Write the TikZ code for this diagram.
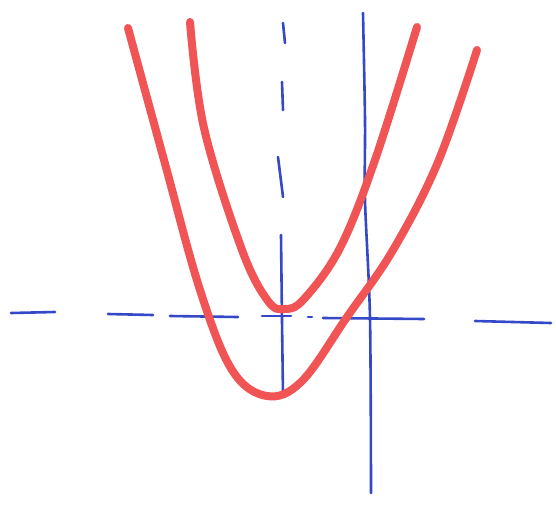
\documentclass[tikz,border=0pt]{standalone}
\usepackage{tikz}
\definecolor{penred}{RGB}{240,84,84}
\definecolor{penblue}{RGB}{52,72,200}

\begin{document}
\begin{tikzpicture}[
    x=1pt, y=-1pt,
    redpen/.style={draw=penred, line width=8pt, line cap=round, line join=round},
    bluepen/.style={draw=penblue, line width=2.6pt, line cap=round}
]
\fill[white] (0,0) rectangle (556,506);
\useasboundingbox (0,0) rectangle (556,506);

% horizontal axis, dashed by hand
\foreach \xa/\ya/\xb/\yb in {11/313/55/312, 108/314/153/315, 170/316/238/317, 262/316/291/316, 308/317/312/317, 323/318/424/319, 475/321/551/323}
  \draw[bluepen] (\xa,\ya) -- (\xb,\yb);

% vertical axis of symmetry
\foreach \xa/\ya/\xb/\yb in {283/23/285/43, 282/82/283/110, 278/157/283/197}
  \draw[bluepen] (\xa,\ya) -- (\xb,\yb);
\draw[bluepen] plot[smooth] coordinates {(281,235) (282,320) (283,395)};

% solid vertical line
\draw[bluepen] plot[smooth] coordinates {(363,13) (365,120) (365,200) (370,318) (371,493)};

% outer parabola
\draw[redpen] plot[smooth, tension=0.6] coordinates {(128,28) (164,160) (200,290) (232,370) (267,396) (302,381) (347,317) (393,250) (438,162) (477,50)};

% inner parabola
\draw[redpen] plot[smooth, tension=0.6] coordinates {(190,22) (204,128) (242,250) (268,301) (285,309) (304,299) (340,248) (375,160) (417,27)};
\end{tikzpicture}
\end{document}
